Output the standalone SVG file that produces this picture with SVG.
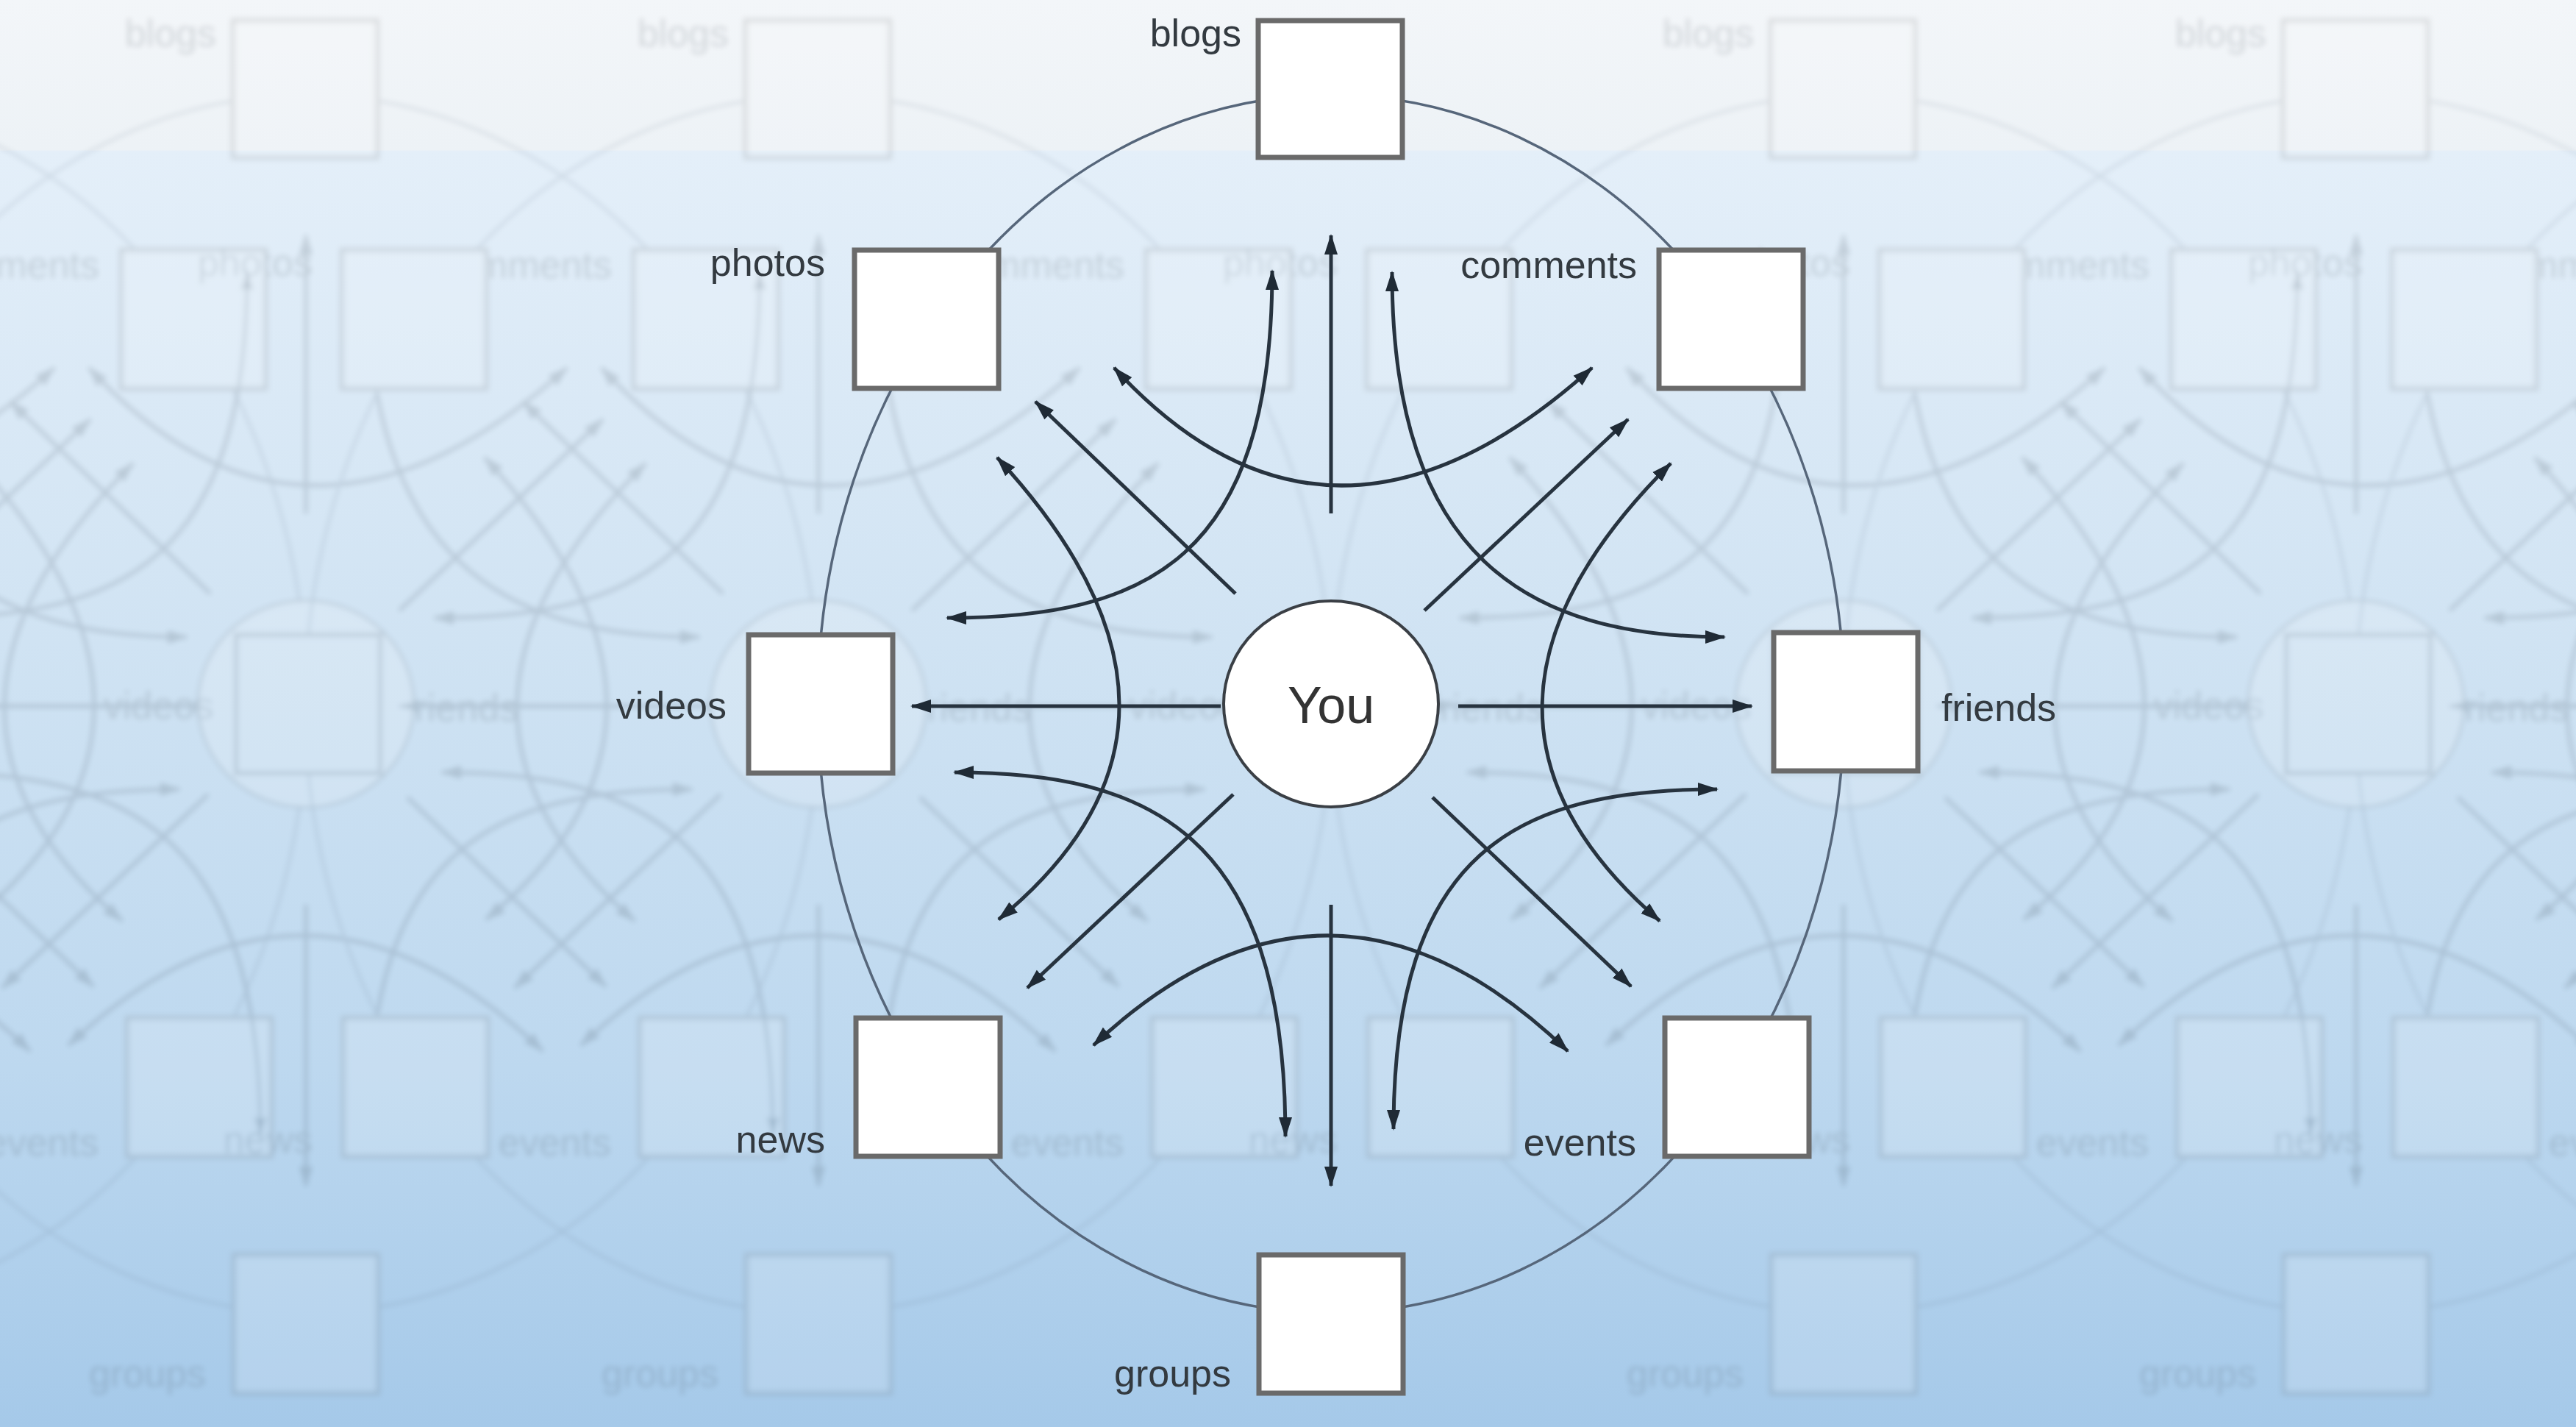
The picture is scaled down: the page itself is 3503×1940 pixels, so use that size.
<svg xmlns="http://www.w3.org/2000/svg" xmlns:xlink="http://www.w3.org/1999/xlink" width="3503" height="1940" viewBox="0 0 3503 1940">
<style>
.box{fill:#ffffff;stroke:#6a6a6a;stroke-width:7}
.lbl{font-family:"Liberation Sans",Arial,Helvetica,sans-serif;font-size:52px;fill:#333a40}
.you{font-family:"Liberation Sans",Arial,Helvetica,sans-serif;font-size:70px;fill:#333333}
.ring{fill:none;stroke:#56667a;stroke-width:3.5}
.arr{fill:none;stroke:#27333f;stroke-width:5;marker-end:url(#head)}
.arr2{fill:none;stroke:#27333f;stroke-width:5;marker-end:url(#head);marker-start:url(#head)}
</style>
<defs>
<linearGradient id="bg" x1="0" y1="0" x2="0" y2="1">
<stop offset="0" stop-color="#f3f6f9"/>
<stop offset="0.105" stop-color="#edf2f6"/>
<stop offset="0.106" stop-color="#e4eff9"/>
<stop offset="0.45" stop-color="#d0e3f3"/>
<stop offset="0.75" stop-color="#bdd8ef"/>
<stop offset="1" stop-color="#a5c9e9"/>
</linearGradient>
<marker id="head" viewBox="0 0 28 20" markerUnits="userSpaceOnUse" markerWidth="28" markerHeight="20" refX="26" refY="10" orient="auto-start-reverse">
<path d="M0,1 L28,10 L0,19 z" fill="#1f2a35"/>
</marker>
<filter id="soft" x="-5%" y="-5%" width="110%" height="110%">
<feGaussianBlur stdDeviation="3.5"/>
</filter>
</defs>
<rect x="0" y="0" width="3503" height="1940" fill="url(#bg)"/>
<g id="ghosts" opacity="0.15" filter="url(#soft)">
<use xlink:href="#diagram" href="#diagram" x="-2091"/>
<use xlink:href="#diagram" href="#diagram" x="-1394"/>
<use xlink:href="#diagram" href="#diagram" x="-697"/>
<use xlink:href="#diagram" href="#diagram" x="697"/>
<use xlink:href="#diagram" href="#diagram" x="1394"/>
<use xlink:href="#diagram" href="#diagram" x="2091"/>
</g>
<g id="diagram">
<ellipse id="ring" class="ring" cx="1810" cy="957" rx="698" ry="828"/>
<g id="connectors">
<path class="arr" d="M1810,698 L1810,320"/>
<path class="arr" d="M1810,1230 L1810,1612"/>
<path class="arr" d="M1660,960 L1240,960"/>
<path class="arr" d="M1983,960 L2382,960"/>
<path class="arr" d="M1680,807 L1408,546"/>
<path class="arr" d="M1937,830 L2214,570"/>
<path class="arr" d="M1677,1080 L1397,1343"/>
<path class="arr" d="M1948,1084 L2218,1341"/>
<path class="arr2" d="M1730,368 C1730,760 1560,840 1288,840"/>
<path class="arr2" d="M1893,370 C1893,760 2080,866 2345,866"/>
<path class="arr2" d="M1298,1050 C1560,1050 1748,1130 1748,1545"/>
<path class="arr2" d="M2335,1073 C2060,1073 1895,1160 1895,1535"/>
<path class="arr2" d="M1515,500 Q1809,820 2165,500"/>
<path class="arr2" d="M1487,1421 Q1809,1119 2132,1429"/>
<path class="arr2" d="M1356,622 Q1687,980 1358,1250"/>
<path class="arr2" d="M2272,630 Q1930,970 2257,1252"/>
</g>
<g id="node-you">
<ellipse cx="1810" cy="957" rx="146" ry="140" fill="#ffffff" stroke="#3a3f45" stroke-width="4"/>
<text class="you" x="1810" y="983" text-anchor="middle">You</text>
</g>
<g id="node-blogs">
<rect class="box" x="1711" y="28" width="196" height="186"/>
<text class="lbl" x="1688" y="63" text-anchor="end">blogs</text>
</g>
<g id="node-photos">
<rect class="box" x="1162" y="340" width="196" height="188"/>
<text class="lbl" x="1122" y="375" text-anchor="end">photos</text>
</g>
<g id="node-comments">
<rect class="box" x="2256" y="340" width="196" height="188"/>
<text class="lbl" x="2226" y="378" text-anchor="end">comments</text>
</g>
<g id="node-videos">
<rect class="box" x="1018" y="863" width="196" height="188"/>
<text class="lbl" x="988" y="977" text-anchor="end">videos</text>
</g>
<g id="node-friends">
<rect class="box" x="2412" y="860" width="196" height="188"/>
<text class="lbl" x="2640" y="980">friends</text>
</g>
<g id="node-news">
<rect class="box" x="1164" y="1384" width="196" height="188"/>
<text class="lbl" x="1122" y="1567" text-anchor="end">news</text>
</g>
<g id="node-events">
<rect class="box" x="2264" y="1384" width="196" height="188"/>
<text class="lbl" x="2225" y="1571" text-anchor="end">events</text>
</g>
<g id="node-groups">
<rect class="box" x="1712" y="1706" width="196" height="188"/>
<text class="lbl" x="1674" y="1885" text-anchor="end">groups</text>
</g>
</g>
</svg>
